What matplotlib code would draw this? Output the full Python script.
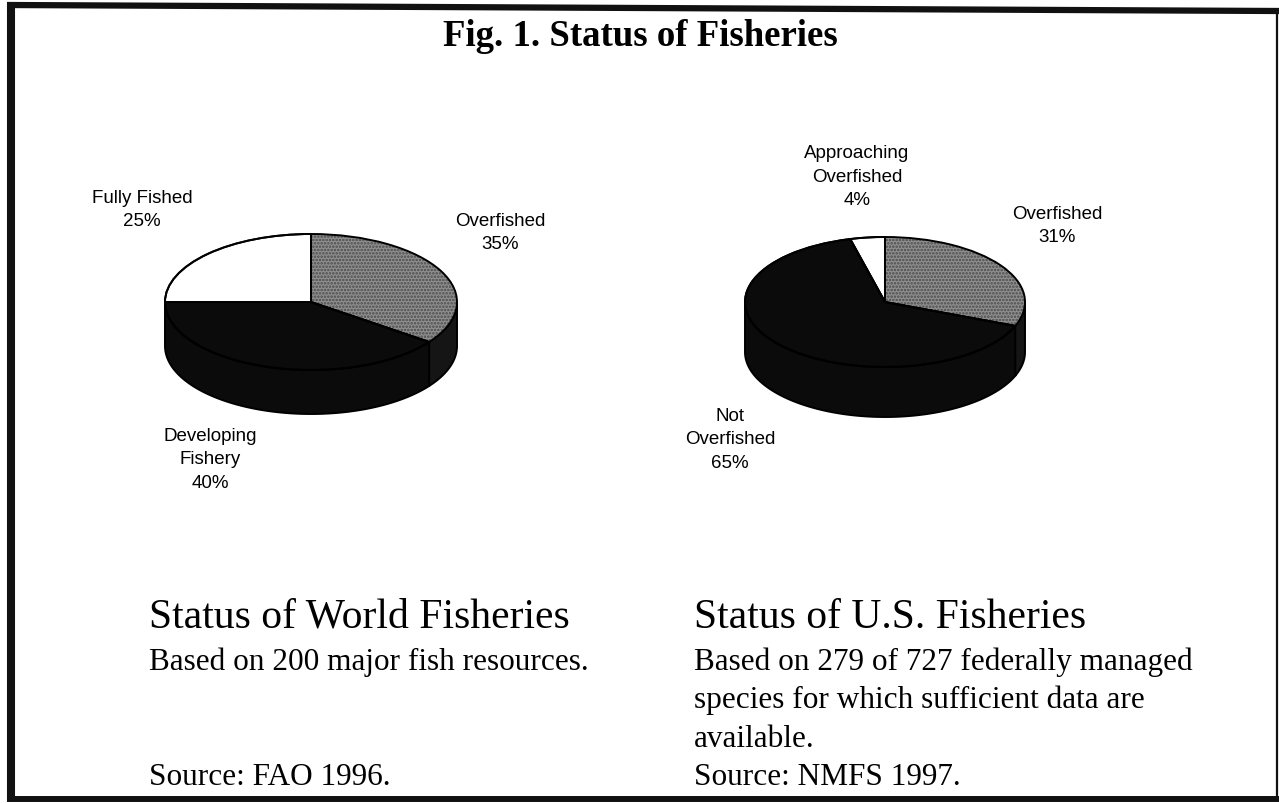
import matplotlib.pyplot as plt
import numpy as np
from matplotlib.lines import Line2D

W, H = 1279, 804

# --- data -----------------------------------------------------------------
world_labels = ['Overfished', 'Developing\nFishery', 'Fully Fished']
world_pct = [35, 40, 25]
us_labels = ['Overfished', 'Not\nOverfished', 'Approaching\nOverfished']
us_pct = [31, 65, 4]

top_colors = ['#8e8e8e', '#0b0b0b', '#ffffff']
side_colors = ['#151515', '#0b0b0b', '#dddddd']

# label centres in pixels (x, y from top)
world_label_pos = [(500, 233), (210, 460), (142, 210)]
us_label_pos = [(1057, 226), (730, 440), (857, 177)]

plt.rcParams['font.family'] = 'Liberation Sans'
plt.rcParams['hatch.linewidth'] = 1.2
fig = plt.figure(figsize=(W / 100, H / 100), dpi=100)
fig.patch.set_facecolor('white')


def fpos(x, y):
    return x / W, 1 - y / H


def pie3d(cx, cy, rx, ry, depth_px, values):
    depth = depth_px / ry
    pad = 1.25
    left, right = cx - pad * rx, cx + pad * rx
    top, bottom = cy - pad * ry, cy + (1 + depth + 0.25) * ry
    ax = fig.add_axes([left / W, 1 - bottom / H, (right - left) / W, (bottom - top) / H])

    # side walls of the front half
    fr = np.array(values, dtype=float) / sum(values)
    ends = 90 - 360 * np.cumsum(fr)
    starts = np.concatenate([[90], ends[:-1]])
    for s, e, c in zip(starts, ends, side_colors):
        lo, hi = max(e, -180), min(s, 0)
        if lo >= hi:
            continue
        t = np.radians(np.linspace(lo, hi, 120))
        xs = np.concatenate([np.cos(t), np.cos(t[::-1])])
        ys = np.concatenate([np.sin(t), np.sin(t[::-1]) - depth])
        ax.fill(xs, ys, facecolor=c, edgecolor='black', linewidth=1.4, zorder=1)

    wedges, _ = ax.pie(values, colors=top_colors, startangle=90, counterclock=False,
                       wedgeprops=dict(edgecolor='black', linewidth=1.4))
    for w in wedges:
        w.set_zorder(2)
    wedges[0].set_hatch('.....')
    wedges[0].set_edgecolor('#4a4a4a')
    wedges[0].set_linewidth(0)
    # outline over the textured wedge
    outline, _ = ax.pie(values, startangle=90, counterclock=False,
                        wedgeprops=dict(edgecolor='black', linewidth=1.4, fill=False))
    for w in outline:
        w.set_zorder(3)

    ax.set_aspect('auto')
    ax.set_xlim(-pad, pad)
    ax.set_ylim(-(1 + depth + 0.25), pad)
    ax.axis('off')
    return ax


pie3d(311, 303, 146, 68, 44, world_pct)
pie3d(885, 303, 140, 65, 50, us_pct)

for lab, p, (x, y) in zip(world_labels, world_pct, world_label_pos):
    fig.text(*fpos(x, y), f'{lab}\n{p}%', ha='center', va='center',
             multialignment='center', fontsize=13.5, linespacing=1.5)
for lab, p, (x, y) in zip(us_labels, us_pct, us_label_pos):
    fig.text(*fpos(x, y), f'{lab}\n{p}%', ha='center', va='center',
             multialignment='center', fontsize=13.5, linespacing=1.5)

# --- titles and captions --------------------------------------------------
serif = 'Liberation Serif'
fig.text(*fpos(640, 37), 'Fig. 1. Status of Fisheries', ha='center', va='center',
         family=serif, fontsize=26.5, fontweight='bold')

fig.text(*fpos(149, 628), 'Status of World Fisheries', ha='left', va='baseline',
         family=serif, fontsize=30)
fig.text(*fpos(149, 670), 'Based on 200 major fish resources.', ha='left', va='baseline',
         family=serif, fontsize=22.5)
fig.text(*fpos(149, 785), 'Source: FAO 1996.', ha='left', va='baseline',
         family=serif, fontsize=22.5)

fig.text(*fpos(694, 628), 'Status of U.S. Fisheries', ha='left', va='baseline',
         family=serif, fontsize=30)
us_notes = ['Based on 279 of 727 federally managed',
            'species for which sufficient data are',
            'available.',
            'Source: NMFS 1997.']
for i, line in enumerate(us_notes):
    fig.text(*fpos(694, 670 + 38.5 * i), line, ha='left', va='baseline',
             family=serif, fontsize=22.5)

# --- frame ----------------------------------------------------------------
frame = [((11, 4), (11, 802), 5.8),
         ((7, 6), (1279, 12), 4.5),
         ((1277, 10), (1277, 802), 1.6),
         ((7, 800), (1279, 800), 4.3)]
for (x0, y0), (x1, y1), lw in frame:
    fig.add_artist(Line2D([x0 / W, x1 / W], [1 - y0 / H, 1 - y1 / H],
                          transform=fig.transFigure, color='#111111', linewidth=lw,
                          solid_capstyle='butt'))

fig.savefig('out.png', dpi=100, facecolor='white')
